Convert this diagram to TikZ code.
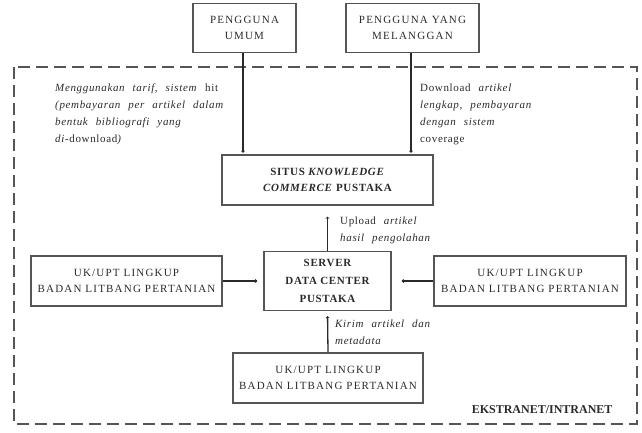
\documentclass[tikz,border=0pt]{standalone}
\usepackage{fontspec}
\setmainfont{Liberation Serif}
\usetikzlibrary{positioning, arrows.meta}
\definecolor{boxgray}{HTML}{555555}
\definecolor{inkgray}{HTML}{2A2A2A}
\newcommand{\boxfont}{\fontsize{11}{16}\selectfont\addfontfeature{LetterSpace=11}}
\newcommand{\notefont}{\fontsize{11}{17}\selectfont\addfontfeature{LetterSpace=6}\spaceskip=8pt plus 1pt}

\begin{document}
\begin{tikzpicture}[x=1pt, y=-1pt,
  box/.style={draw=boxgray, line width=1.1pt, align=center, text=inkgray,
              font=\boxfont, inner sep=0pt},
  link/.style={draw=inkgray, line width=1.3pt,
               -{Straight Barb[length=1.8pt, width=3.5pt, line width=0.6pt]}},
  note/.style={align=left, anchor=north west, text=inkgray, font=\notefont, inner sep=0pt}]
  \useasboundingbox (0,0) rectangle (642,432);

  % batas ekstranet/intranet
  \draw[boxgray, line width=1.6pt, dash pattern=on 12pt off 6pt] (14,67) rectangle (637,424);
  \node[anchor=base east, text=inkgray, font=\fontsize{12}{14}\selectfont\bfseries] (zona) at (616,413) {EKSTRANET/INTRANET};

  % pengguna
  \node[box, minimum width=103pt, minimum height=49pt] (umum) at (244.5,28) {PENGGUNA\\UMUM};
  \node[box, minimum width=133pt, minimum height=49pt] (langganan) at (412.5,28) {PENGGUNA YANG\\MELANGGAN};

  % situs dan server
  \node[box, font=\fontsize{11}{16}\selectfont\addfontfeature{LetterSpace=6}\bfseries,
        minimum width=211pt, minimum height=50pt] (situs) at (327.5,180)
    {SITUS \textit{KNOWLEDGE}\\\textit{COMMERCE} PUSTAKA};
  \node[box, font=\fontsize{11}{18}\selectfont\addfontfeature{LetterSpace=6}\bfseries,
        minimum width=127pt, minimum height=59pt] (server) at (327.5,281) {SERVER\\DATA CENTER\\PUSTAKA};

  % unit kerja
  \node[box, minimum width=191pt, minimum height=50pt] (ukkiri) at (126.5,281) {UK/UPT LINGKUP\\BADAN LITBANG PERTANIAN};
  \node[box, minimum width=192pt, minimum height=50pt] (ukkanan) at (530,281) {UK/UPT LINGKUP\\BADAN LITBANG PERTANIAN};
  \node[box, minimum width=190pt, minimum height=50pt] (ukbawah) at (328,378) {UK/UPT LINGKUP\\BADAN LITBANG PERTANIAN};

  % alur
  \draw[link, shorten >=2pt] (umum.south -| 243,0) -- (243,155);
  \draw[link, shorten >=2pt] (langganan.south -| 411,0) -- (411,155);
  \draw[link, shorten >=11pt] (server.north) -- (situs.south);
  \draw[link, shorten >=6pt] (ukkiri.east) -- (server.west);
  \draw[link, shorten >=10pt] (ukkanan.west) -- (server.east);
  \draw[link, shorten >=5pt] (ukbawah.north) -- (server.south);

  % keterangan
  \node[note] (ketumum) at (55,84)
    {\textit{Menggunakan tarif, sistem} hit\\
     \textit{(pembayaran per artikel dalam}\\
     \textit{bentuk bibliografi yang}\\
     \textit{di-}download\textit{)}};
  \node[note] (ketlangganan) at (420,84)
    {Download \textit{artikel}\\
     \textit{lengkap, pembayaran}\\
     \textit{dengan sistem}\\
     coverage};
  \node[note] (ketupload) at (340,217) {Upload \textit{artikel}\\\textit{hasil pengolahan}};
  \node[note] (ketkirim) at (335,320) {\textit{Kirim artikel dan}\\\textit{metadata}};
\end{tikzpicture}
\end{document}
